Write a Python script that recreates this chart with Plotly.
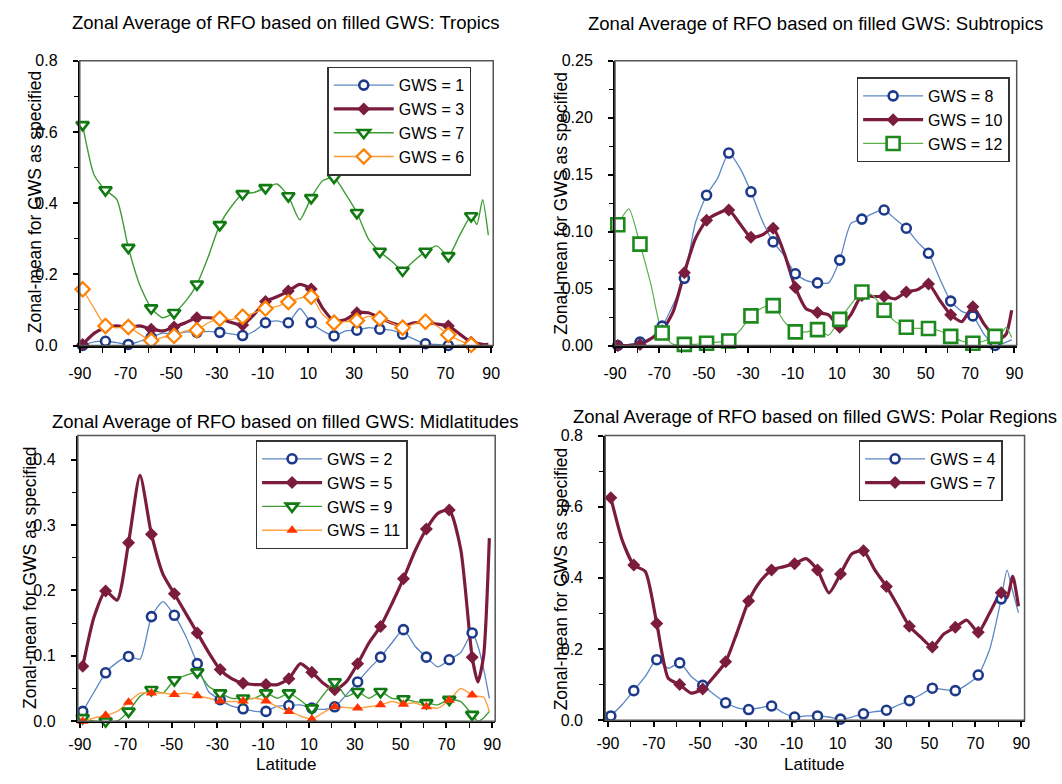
import plotly.graph_objects as go

W, H = 1062, 784

# ---------------- data ----------------
lat = [-88.75, -83.75, -78.75, -73.75, -68.75, -63.75, -58.75, -53.75, -48.75, -43.75,
       -38.75, -33.75, -28.75, -23.75, -18.75, -13.75, -8.75, -3.75, 1.25, 6.25,
       11.25, 16.25, 21.25, 26.25, 31.25, 36.25, 41.25, 46.25, 51.25, 56.25,
       61.25, 66.25, 71.25, 76.25, 81.25, 83.75, 86.25, 88.75]
marker_lats = [-88.75, -78.75, -68.75, -58.75, -48.75, -38.75, -28.75, -18.75, -8.75,
               1.25, 11.25, 21.25, 31.25, 41.25, 51.25, 61.25, 71.25, 81.25]
x_tick_labels = [-90, -70, -50, -30, -10, 10, 30, 50, 70, 90]

# Tropics
trop_gws1 = [0.0, 0.01, 0.012, 0.008, 0.003, 0.012, 0.023, 0.035, 0.032, 0.038, 0.037, 0.04, 0.037,
             0.033, 0.028, 0.04, 0.064, 0.069, 0.064, 0.104, 0.064, 0.041, 0.027, 0.041, 0.043, 0.05,
             0.046, 0.043, 0.032, 0.018, 0.005, 0.003, 0.0, 0.0, 0.0, 0.0, 0.0, 0.0]
trop_gws3 = [0.003, 0.034, 0.05, 0.055, 0.05, 0.055, 0.046, 0.041, 0.052, 0.064, 0.078, 0.078, 0.075,
             0.065, 0.058, 0.087, 0.124, 0.137, 0.153, 0.172, 0.159, 0.105, 0.069, 0.073, 0.092, 0.092,
             0.078, 0.064, 0.055, 0.064, 0.064, 0.06, 0.055, 0.032, 0.009, 0.006, 0.003, 0.003]
trop_gws7 = [0.62, 0.48, 0.437, 0.41, 0.275, 0.17, 0.105, 0.078, 0.092, 0.124, 0.172, 0.25, 0.339,
             0.39, 0.426, 0.43, 0.443, 0.454, 0.42, 0.353, 0.415, 0.463, 0.472, 0.426, 0.373, 0.30,
             0.264, 0.238, 0.211, 0.238, 0.264, 0.28, 0.252, 0.31, 0.364, 0.34, 0.41, 0.31]
trop_gws6 = [0.158, 0.105, 0.055, 0.05, 0.052, 0.032, 0.014, 0.023, 0.027, 0.041, 0.043, 0.064, 0.075,
             0.073, 0.081, 0.092, 0.104, 0.11, 0.122, 0.133, 0.137, 0.087, 0.064, 0.067, 0.07, 0.082,
             0.076, 0.064, 0.05, 0.061, 0.067, 0.055, 0.03, 0.014, 0.002, 0.0, 0.0, 0.0]

# Subtropics
sub_gws8 = [0.0, 0.001, 0.003, 0.007, 0.017, 0.036, 0.059, 0.108, 0.132, 0.147, 0.169, 0.156, 0.135,
            0.11, 0.091, 0.079, 0.063, 0.057, 0.055, 0.055, 0.075, 0.107, 0.111, 0.116, 0.119, 0.111,
            0.103, 0.091, 0.081, 0.059, 0.039, 0.03, 0.026, 0.01, 0.0, 0.001, 0.003, 0.005]
sub_gws10 = [0.0, 0.0, 0.001, 0.006, 0.013, 0.03, 0.064, 0.094, 0.11, 0.116, 0.119, 0.107, 0.095,
             0.097, 0.103, 0.081, 0.051, 0.032, 0.029, 0.027, 0.016, 0.027, 0.044, 0.043, 0.043, 0.041,
             0.047, 0.049, 0.054, 0.04, 0.027, 0.021, 0.034, 0.019, 0.007, 0.006, 0.01, 0.031]
sub_gws12 = [0.106, 0.12, 0.089, 0.053, 0.011, 0.001, 0.001, 0.001, 0.002, 0.003, 0.004, 0.013, 0.026,
             0.033, 0.035, 0.021, 0.012, 0.012, 0.014, 0.009, 0.023, 0.036, 0.047, 0.044, 0.031, 0.021,
             0.016, 0.015, 0.015, 0.013, 0.008, 0.004, 0.002, 0.004, 0.008, 0.01, 0.016, 0.007]

# Midlatitudes
mid_gws2 = [0.015, 0.045, 0.074, 0.09, 0.099, 0.095, 0.16, 0.183, 0.162, 0.13, 0.088, 0.045, 0.033,
            0.023, 0.019, 0.015, 0.015, 0.023, 0.024, 0.025, 0.02, 0.018, 0.022, 0.04, 0.06, 0.08,
            0.098, 0.12, 0.14, 0.115, 0.098, 0.083, 0.094, 0.105, 0.135, 0.115, 0.08, 0.035]
mid_gws5 = [0.084, 0.16, 0.199, 0.185, 0.273, 0.376, 0.286, 0.225, 0.195, 0.165, 0.135, 0.105, 0.079,
            0.065, 0.058, 0.056, 0.056, 0.056, 0.065, 0.088, 0.075, 0.058, 0.048, 0.06, 0.088, 0.12,
            0.145, 0.18, 0.218, 0.26, 0.294, 0.318, 0.323, 0.263, 0.098, 0.06, 0.1, 0.28]
mid_gws9 = [0.005, 0.0, 0.0, 0.0, 0.015, 0.038, 0.048, 0.043, 0.063, 0.07, 0.075, 0.053, 0.043,
            0.035, 0.035, 0.035, 0.043, 0.035, 0.043, 0.032, 0.02, 0.04, 0.06, 0.038, 0.045, 0.035,
            0.045, 0.035, 0.034, 0.03, 0.028, 0.025, 0.033, 0.03, 0.01, 0.0, 0.005, 0.015]
mid_gws11 = [0.0, 0.005, 0.009, 0.015, 0.029, 0.043, 0.043, 0.043, 0.041, 0.043, 0.039, 0.035, 0.031,
             0.03, 0.031, 0.035, 0.031, 0.022, 0.015, 0.008, 0.003, 0.013, 0.022, 0.021, 0.02, 0.022,
             0.025, 0.03, 0.026, 0.028, 0.022, 0.02, 0.032, 0.05, 0.04, 0.038, 0.037, 0.015]

# Polar regions
pol_gws4 = [0.012, 0.044, 0.083, 0.123, 0.17, 0.146, 0.161, 0.123, 0.098, 0.072, 0.049, 0.035, 0.03,
            0.035, 0.04, 0.021, 0.009, 0.012, 0.012, 0.009, 0.003, 0.009, 0.018, 0.024, 0.028, 0.042,
            0.055, 0.072, 0.09, 0.086, 0.083, 0.1, 0.127, 0.2, 0.341, 0.422, 0.362, 0.302]
pol_gws7 = [0.625, 0.505, 0.436, 0.418, 0.272, 0.118, 0.1, 0.076, 0.088, 0.123, 0.164, 0.247, 0.335,
            0.39, 0.422, 0.431, 0.44, 0.454, 0.422, 0.358, 0.411, 0.468, 0.476, 0.422, 0.376, 0.321,
            0.264, 0.233, 0.206, 0.242, 0.261, 0.281, 0.247, 0.302, 0.358, 0.344, 0.404, 0.32]

# ---------------- styles ----------------
STY = {
    "blue": dict(line=dict(color="#5b87c5", width=1.3),
                 marker=dict(symbol="circle", size=9, color="white",
                             line=dict(color="#1d3a8a", width=2.6))),
    "maroon": dict(line=dict(color="#7b1c3e", width=3.2),
                   marker=dict(symbol="diamond", size=10, color="#7b1c3e",
                               line=dict(color="#7b1c3e", width=0))),
    "gtri": dict(line=dict(color="#3f9c34", width=1.4),
                 marker=dict(symbol="triangle-down", size=11, color="white",
                             line=dict(color="#127a12", width=2.6))),
    "odia": dict(line=dict(color="#ff9933", width=1.3),
                 marker=dict(symbol="diamond", size=11, color="white",
                             line=dict(color="#ff8000", width=2.2))),
    "gsq": dict(line=dict(color="#5cb04c", width=1.2),
                marker=dict(symbol="square", size=13, color="white",
                            line=dict(color="#1e8a1e", width=2.6))),
    "rtri": dict(line=dict(color="#ffa347", width=1.5),
                 marker=dict(symbol="triangle-up", size=10, color="#ff3300",
                             line=dict(color="#ff3300", width=0))),
}

panels = [
    dict(title="Zonal Average of RFO based on filled GWS: Tropics",
         series=[("GWS = 1", trop_gws1, "blue"), ("GWS = 3", trop_gws3, "maroon"),
                 ("GWS = 7", trop_gws7, "gtri"), ("GWS = 6", trop_gws6, "odia")],
         box=(69, 490, 54, 345), xr=[-90, 90.9], yr=[0, 0.8], dtick=0.2, minor=0.1, fmt=".1f",
         leg=(321, 60), title_xy=(278, 15), ytitle_xy=(23, 198), xlabel=False, xstand=7),
    dict(title="Zonal Average of RFO based on filled GWS: Subtropics",
         series=[("GWS = 8", sub_gws8, "blue"), ("GWS = 10", sub_gws10, "maroon"),
                 ("GWS = 12", sub_gws12, "gsq")],
         box=(614, 1023, 54, 345), xr=[-90, 91], yr=[0, 0.25], dtick=0.05, minor=0.025, fmt=".2f",
         leg=(860, 71), title_xy=(818, 16), ytitle_xy=(559, 199), xlabel=False, xstand=7),
    dict(title="Zonal Average of RFO based on filled GWS: Midlatitudes",
         series=[("GWS = 2", mid_gws2, "blue"), ("GWS = 5", mid_gws5, "maroon"),
                 ("GWS = 9", mid_gws9, "gtri"), ("GWS = 11", mid_gws11, "rtri")],
         box=(67, 492, 437, 729), xr=[-90.9, 91.3], yr=[0, 0.437], dtick=0.1, minor=0.05, fmt=".1f",
         leg=(248, 442), title_xy=(278, 423), ytitle_xy=(19, 582), xlabel=True, xstand=3),
    dict(title="Zonal Average of RFO based on filled GWS: Polar Regions",
         series=[("GWS = 4", pol_gws4, "blue"), ("GWS = 7", pol_gws7, "maroon")],
         box=(604, 1031, 437, 728), xr=[-91.2, 91.4], yr=[0, 0.8], dtick=0.2, minor=0.1, fmt=".1f",
         leg=(862, 442), title_xy=(818, 418), ytitle_xy=(559, 583), xlabel=True, xstand=3),
]

FONT = "Liberation Sans, Arial, sans-serif"

fig = go.Figure()
layout = dict(width=W, height=H, autosize=False, margin=dict(l=0, r=0, t=0, b=0),
              paper_bgcolor="white", plot_bgcolor="white",
              font=dict(family=FONT, color="black"), showlegend=True)
annotations = []
shapes = []

for p, pan in enumerate(panels, start=1):
    sfx = "" if p == 1 else str(p)
    xa, ya = "x" + sfx, "y" + sfx
    legname = "legend" + sfx
    x0, x1, y0, y1 = pan["box"]
    layout["xaxis" + sfx] = dict(
        domain=[x0 / W, x1 / W], range=pan["xr"], anchor=ya,
        tickmode="array", tickvals=x_tick_labels, ticktext=[str(v) for v in x_tick_labels],
        ticks="outside", ticklen=5, tickwidth=1.5, tickcolor="black",
        minor=dict(tickmode="array", tickvals=list(range(-80, 90, 20)), ticks="outside",
                   ticklen=5, tickwidth=1.2, tickcolor="black"),
        showline=True, linecolor="black", linewidth=2, showgrid=False, zeroline=False,
        tickfont=dict(size=16, family=FONT), ticklabelstandoff=pan["xstand"], fixedrange=True)
    layout["yaxis" + sfx] = dict(
        domain=[1 - y1 / H, 1 - y0 / H], range=pan["yr"], anchor=xa,
        dtick=pan["dtick"], tick0=0, tickformat=pan["fmt"],
        ticks="outside", ticklen=5, tickwidth=1.5, tickcolor="black",
        minor=dict(dtick=pan["minor"], ticks="outside", ticklen=4, tickwidth=1.2, tickcolor="black"),
        showline=True, linecolor="black", linewidth=2, showgrid=False, zeroline=False,
        tickfont=dict(size=16, family=FONT), ticklabelstandoff=12, fixedrange=True)
    shapes.append(dict(type="rect", xref=xa + " domain", yref=ya + " domain",
                       x0=0, x1=1, y0=0, y1=1, line=dict(color="#555555", width=1.5),
                       layer="above"))
    lx, ly = pan["leg"]
    layout[legname] = dict(x=lx / W, y=1 - ly / H, xanchor="left", yanchor="top",
                           bgcolor="white", bordercolor="#333333", borderwidth=1.5,
                           font=dict(size=16, family=FONT), itemwidth=60,
                           tracegroupgap=0, itemclick=False, itemdoubleclick=False)
    # line traces
    for name, vals, sk in pan["series"]:
        st = STY[sk]
        fig.add_trace(go.Scatter(x=lat, y=vals, xaxis=xa, yaxis=ya, mode="lines",
                                 line=dict(st["line"], shape="spline", smoothing=0.6),
                                 showlegend=False, hoverinfo="skip", legend=legname))
    # marker traces (separated by gaps so no connecting lines are drawn)
    for name, vals, sk in pan["series"]:
        st = STY[sk]
        mx, my = [], []
        for mlat in marker_lats:
            i = lat.index(mlat)
            mx += [lat[i], None]
            my += [vals[i], None]
        fig.add_trace(go.Scatter(x=mx, y=my, xaxis=xa, yaxis=ya, mode="lines+markers",
                                 line=st["line"], marker=st["marker"], connectgaps=False,
                                 cliponaxis=False, name=name, legend=legname,
                                 showlegend=True))
    tx, ty = pan["title_xy"]
    annotations.append(dict(text=pan["title"], x=tx / W, y=1 - ty / H, xref="paper", yref="paper",
                            xanchor="center", yanchor="middle", showarrow=False,
                            font=dict(size=18.5, family=FONT, color="black")))
    yx, yy = pan["ytitle_xy"]
    annotations.append(dict(text="Zonal-mean for GWS as specified", x=yx / W, y=1 - yy / H,
                            xref="paper", yref="paper", xanchor="center", yanchor="middle",
                            textangle=-90, showarrow=False,
                            font=dict(size=17.5, family=FONT, color="black")))
    if pan["xlabel"]:
        annotations.append(dict(text="Latitude", x=((x0 + x1) / 2) / W, y=0,
                                xref="paper", yref="paper", xanchor="center", yanchor="bottom",
                                borderpad=0, showarrow=False,
                                font=dict(size=17, family=FONT, color="black")))

layout["annotations"] = annotations
layout["shapes"] = shapes
fig.update_layout(**layout)
fig.write_html("out.html")
